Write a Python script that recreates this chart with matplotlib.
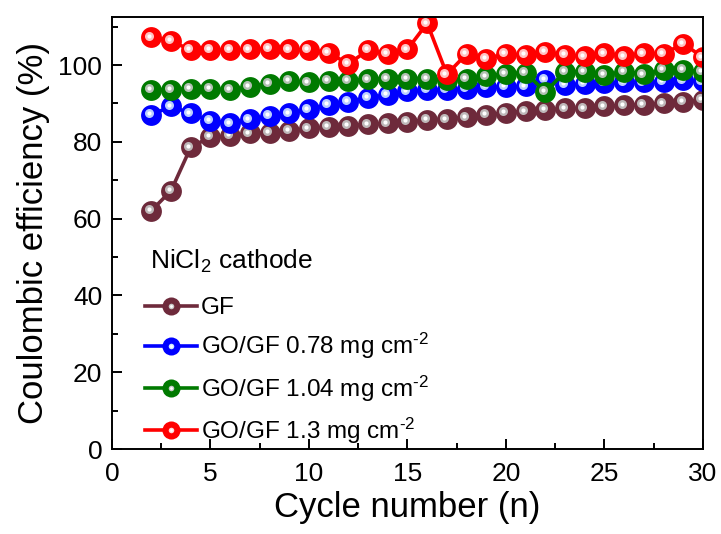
import numpy as np
import matplotlib
matplotlib.use("Agg")
import matplotlib.pyplot as plt
import matplotlib.transforms as mtransforms
from matplotlib.ticker import MultipleLocator
from matplotlib.legend_handler import HandlerTuple
from matplotlib.lines import Line2D

# data
cycles = list(range(2, 31))
gf = [62.1, 67.3, 78.6, 81.3, 81.5, 82.2, 82.4, 82.8, 83.5, 83.9, 84.2, 84.6, 84.8, 85.2,
      85.8, 85.9, 86.4, 87.0, 87.6, 88.0, 88.3, 88.7, 88.7, 89.3, 89.5, 89.7, 90.0, 90.4, 90.9]
go_078 = [87.0, 89.3, 87.4, 85.5, 84.8, 85.9, 86.7, 87.4, 88.5, 89.6, 90.4, 91.5, 92.2, 93.2,
          93.5, 93.5, 93.9, 94.3, 94.3, 94.5, 96.1, 94.9, 95.1, 95.3, 95.5, 95.5, 95.7, 96.0, 95.8]
go_104 = [93.6, 93.6, 93.9, 93.9, 93.5, 94.3, 95.2, 95.9, 95.5, 95.9, 95.9, 96.3, 96.5, 96.5,
          96.5, 96.1, 96.5, 97.1, 97.8, 98.0, 93.0, 98.3, 98.3, 97.4, 98.3, 97.6, 98.7, 98.7, 98.3]
go_13 = [107.2, 106.3, 103.9, 103.9, 103.9, 104.1, 104.3, 104.1, 103.9, 103.2, 100.3, 103.9, 102.9, 104.1,
         110.9, 97.6, 102.9, 101.7, 102.9, 102.6, 103.4, 102.6, 102.3, 103.1, 102.3, 103.1, 102.9, 105.6, 102.0]

series = [
    (gf, "#6e2a3b", "#c8c8c8", "GF"),
    (go_078, "#0000ff", "#cfe6ff", "GO/GF 0.78 mg cm$^{\u20102}$"),
    (go_104, "#007a00", "#c8c8c8", "GO/GF 1.04 mg cm$^{\u20102}$"),
    (go_13, "#ff0000", "#ffd8d8", "GO/GF 1.3 mg cm$^{\u20102}$"),
]

plt.rcParams["font.family"] = ["Liberation Sans", "DejaVu Sans"]
plt.rcParams["mathtext.default"] = "regular"

fig = plt.figure(figsize=(7.21, 5.34), dpi=100)
ax = fig.add_axes([0.1553, 0.159, 0.8197, 0.809])

# small offset for the glossy highlight on each ball
hl_trans = mtransforms.offset_copy(ax.transData, fig=fig, x=-1.8, y=1.2, units="points")

handles = []
for vals, col, hl, label in series:
    ax.plot(cycles, vals, "-o", color=col, lw=2.6, ms=15, mew=0)
    ax.plot(cycles, vals, "o", ls="none", color=hl, ms=6.5, mew=0,
            alpha=0.9, transform=hl_trans)
    ax.plot(cycles, vals, "o", ls="none", color="white", ms=3, mew=0,
            transform=hl_trans)
    proxy = Line2D([], [], color=col, lw=2.6, marker="o", ms=13, mew=0)
    proxy_hl = Line2D([], [], ls="none", color=hl, marker="o", ms=4, mew=0)
    proxy_dot = Line2D([], [], ls="none", color="white", marker="o", ms=2, mew=0)
    handles.append(((proxy, proxy_hl, proxy_dot), label))

ax.set_xlim(0, 30)
ax.set_ylim(0, 112.5)
ax.xaxis.set_major_locator(MultipleLocator(5))
ax.xaxis.set_minor_locator(MultipleLocator(2.5))
ax.yaxis.set_major_locator(MultipleLocator(20))
ax.yaxis.set_minor_locator(MultipleLocator(10))
ax.tick_params(which="both", direction="in", width=1.4, top=False, right=False)
ax.tick_params(which="major", length=7)
ax.tick_params(which="minor", length=4.5)
ax.tick_params(axis="x", pad=9)
ax.tick_params(axis="y", pad=7)
ax.tick_params(labelsize=19)
for sp in ax.spines.values():
    sp.set_linewidth(1.4)

ax.set_xlabel("Cycle number (n)", fontsize=25, labelpad=4)
ax.set_ylabel("Coulombic efficiency (%)", fontsize=25, labelpad=6)

ax.text(0.064, 0.4167, "NiCl$_2$ cathode", transform=ax.transAxes,
        fontsize=19, ha="left", va="baseline")

ax.legend([h for h, _ in handles], [l for _, l in handles],
          handler_map={tuple: HandlerTuple(ndivide=1, pad=0)},
          fontsize=17.5, loc="upper left", bbox_to_anchor=(0.0558, 0.352),
          frameon=False, handlelength=2.15, handletextpad=0.15,
          labelspacing=0.5, borderpad=0, borderaxespad=0)

fig.savefig("out.png", dpi=100)
